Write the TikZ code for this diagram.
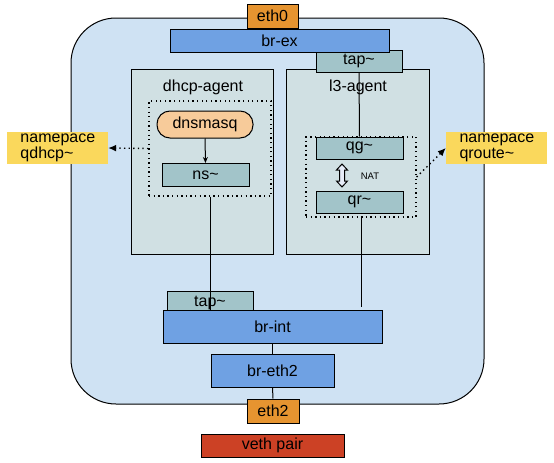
\documentclass[tikz,border=0pt]{standalone}
\usepackage{fontspec}
\setmainfont{Liberation Sans}
\usetikzlibrary{arrows.meta}
\definecolor{hostbg}{HTML}{CFE2F3}
\definecolor{agentbg}{HTML}{D0E0E3}
\definecolor{ifbg}{HTML}{A2C4C9}
\definecolor{bridgebg}{HTML}{6FA1E3}
\definecolor{nicbg}{HTML}{E69430}
\definecolor{procbg}{HTML}{F7CB9A}
\definecolor{notebg}{HTML}{FAD85C}
\definecolor{vethbg}{HTML}{CC4125}
\definecolor{natbg}{HTML}{E6ECF8}
\tikzset{
  txt/.style={font=\fontsize{16}{16}\selectfont, text=black},
  box/.style={txt, draw, line width=1pt, inner sep=0pt, align=center},
  agentbox/.style={box, fill=agentbg},
  ifbox/.style={box, fill=ifbg},
  bridge/.style={box, fill=bridgebg},
  nic/.style={box, fill=nicbg},
  nsframe/.style={draw, line width=1.4pt, dash pattern=on 1.3pt off 3.3pt, inner sep=0pt},
  note/.style={txt, fill=notebg, inner sep=0pt, align=left, text width=90pt},
  link/.style={line width=1pt},
  nsarrow/.style={line width=1.4pt, dash pattern=on 1.3pt off 3.3pt, -{Latex[length=8pt,width=7pt]}},
}
\begin{document}
\begin{tikzpicture}[x=1pt,y=-1pt]
\useasboundingbox (0,0) rectangle (554,463);
\fill[white] (0,0) rectangle (554,463);

% network host
\draw[fill=hostbg, line width=1pt, rounded corners=45pt] (71,18) rectangle (484,404);

% agents
\node[agentbox, minimum width=142pt, minimum height=185pt] (dhcp) at (202,161.5) {};
\node[txt] (dhcplbl) at (203,87) {dhcp-agent};
\node[agentbox, minimum width=143pt, minimum height=185pt] (l3) at (357.5,161.5) {};
\node[txt] (l3lbl) at (358,87) {l3-agent};

% external bridge
\node[ifbox, minimum width=86pt, minimum height=22pt] (tapex) at (359,61) {tap\textasciitilde};
\node[bridge, minimum width=219pt, minimum height=23pt] (brex) at (279.5,40.5) {br-ex};
\node[nic, minimum width=51pt, minimum height=24pt] (eth0) at (272.5,16) {eth0};

% dhcp namespace
\node[nsframe, minimum width=122pt, minimum height=95pt] (dhcpns) at (210,148.5) {};
\node[box, fill=procbg, rounded corners=13pt, minimum width=96pt, minimum height=27pt] (dnsmasq) at (205,124.5) {dnsmasq};
\node[ifbox, minimum width=87pt, minimum height=23pt] (ns) at (205.5,175) {ns\textasciitilde};
\draw[link, -{Stealth[length=6pt,width=5pt]}] (dnsmasq.south) -- (ns.north);

% router namespace
\node[nsframe, minimum width=110pt, minimum height=80pt] (l3ns) at (361,177) {};
\node[ifbox, minimum width=87pt, minimum height=22pt] (qg) at (359.5,148) {qg\textasciitilde};
\node[ifbox, minimum width=87pt, minimum height=22pt] (qr) at (359.5,202) {qr\textasciitilde};
\draw[line width=1pt, fill=natbg] (342,164) -- (347.5,170) -- (344.5,170) -- (344.5,181) -- (347.5,181)
  -- (342,187) -- (336.5,181) -- (339.5,181) -- (339.5,170) -- (336.5,170) -- cycle;
\node[font=\fontsize{9.5}{10}\selectfont] (nat) at (370,176) {NAT};
\draw[link] (tapex.south) -- (qg.north);

% integration bridge and uplink
\node[ifbox, minimum width=86pt, minimum height=22pt, anchor=north] (tapint) at (210,291) {};
\node[txt, anchor=base] (taplbl) at (210,306) {tap\textasciitilde};
\node[bridge, minimum width=219pt, minimum height=33pt] (brint) at (272.5,326.5) {br-int};
\node[bridge, minimum width=123pt, minimum height=33pt] (breth) at (272.5,370.5) {br-eth2};
\node[nic, minimum width=52pt, minimum height=24pt] (eth2) at (273,411) {eth2};
\node[box, fill=vethbg, minimum width=143pt, minimum height=23pt] (veth) at (272.5,445.5) {veth pair};

\coordinate (l3end) at (361,307);
\draw[link] (dhcpns.south) -- (dhcpns.south |- brint.north);
\draw[link] (l3ns.south) -- (l3end);
\draw[link] (brint.south) -- (breth.north);
\draw[link] (breth.south) -- (eth2.north);

% namespace notes
\node[note, minimum width=101pt, minimum height=32pt] (qdhcp) at (57.5,148) {\hspace*{8pt}namepace\\\hspace*{8pt}qdhcp\textasciitilde};
\node[note, minimum width=101pt, minimum height=32pt] (qroute) at (496.5,148) {\hspace*{8pt}namepace\\\hspace*{8pt}qroute\textasciitilde};
\draw[nsarrow] (dhcpns.west) -- (qdhcp.east);
\draw[nsarrow] (l3ns.east) -- (qroute.west);
\end{tikzpicture}
\end{document}
